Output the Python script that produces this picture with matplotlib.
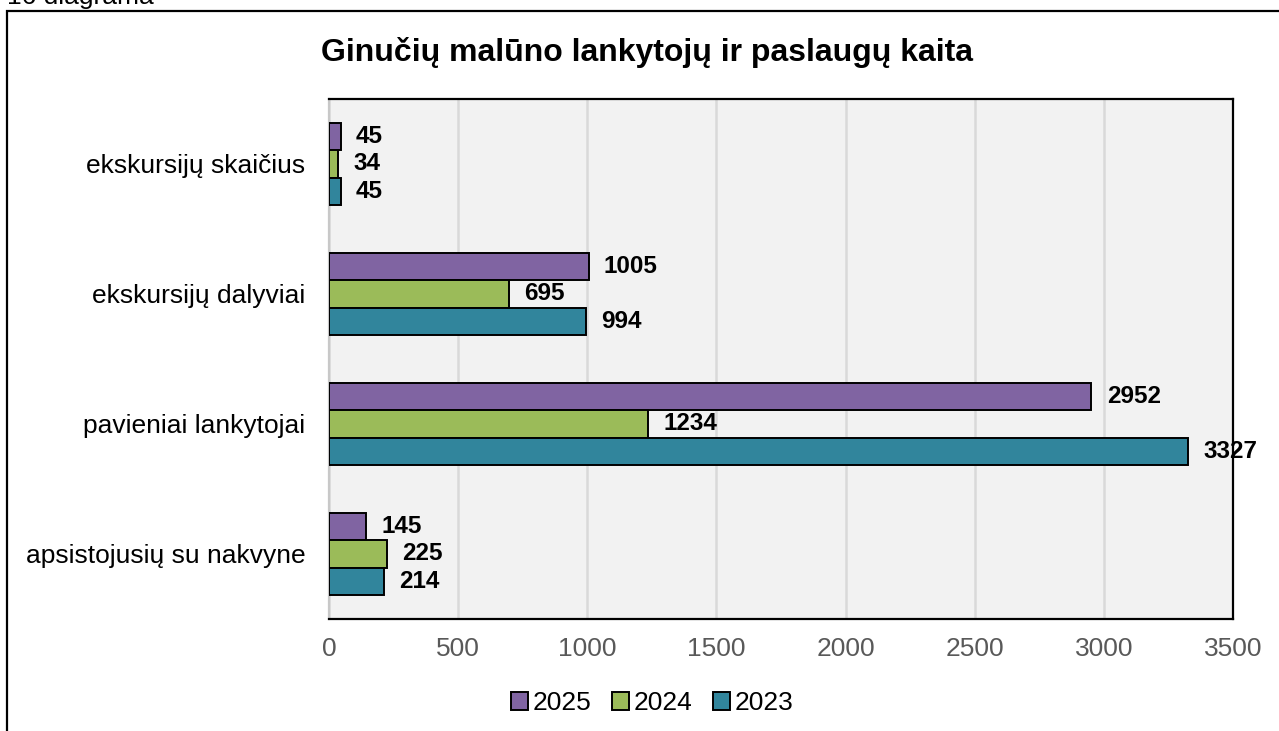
import numpy as np
import matplotlib
matplotlib.use("Agg")
from matplotlib import pyplot as plt
from matplotlib.patches import Rectangle

plt.rcParams['font.family'] = ['Liberation Sans', 'DejaVu Sans']

categories = ['apsistojusių su nakvyne', 'pavieniai lankytojai',
              'ekskursijų dalyviai', 'ekskursijų skaičius']
years = ['2025', '2024', '2023']
v2025 = [145, 2952, 1005, 45]
v2024 = [225, 1234, 695, 34]
v2023 = [214, 3327, 994, 45]
colors = ['#8064A2', '#9BBB59', '#31859C']

fig = plt.figure(figsize=(12.79, 7.31), dpi=100)
W, H = 1279, 731

# outer chart frame (runs off the right and bottom edge)
fig.patches.append(Rectangle((7 / W, -0.1), 1.2, 1 - 11 / H + 0.1,
                             transform=fig.transFigure, fill=False,
                             edgecolor='black', linewidth=1.6))
# caption above the frame, cut off at the top like in the source
fig.text(7 / W, 1 - 4 / H, '16 diagrama', fontsize=19, va='baseline', ha='left')

ax = fig.add_axes([329 / W, 1 - 619 / H, (1233 - 329) / W, (619 - 99) / H])
ax.set_facecolor('#f2f2f2')

y = np.arange(len(categories))
h = 0.21
for vals, off, col, lab in zip([v2025, v2024, v2023], [h, 0, -h], colors, years):
    bars = ax.barh(y + off, vals, height=h, color=col, edgecolor='black',
                   linewidth=1.4, label=lab, zorder=3)
    for b, v in zip(bars, vals):
        ax.annotate(str(v), (b.get_width(), b.get_y() + b.get_height() / 2),
                    xytext=(11, 0), textcoords='offset points', va='center',
                    ha='left', fontsize=17.5, fontweight='bold', zorder=5,
                    annotation_clip=False)

ax.set_xlim(0, 3500)
ax.set_ylim(-0.5, 3.5)
ax.set_xticks(np.arange(0, 3501, 500))
ax.set_yticks(y)
ax.set_yticklabels(categories)
ax.tick_params(axis='y', length=0, pad=17, labelsize=19)
ax.tick_params(axis='x', length=0, pad=13, labelsize=19, labelcolor='#595959')
ax.grid(axis='x', color='#d9d9d9', linewidth=1.8, zorder=0)
ax.set_axisbelow(True)
for s in ['top', 'right', 'bottom']:
    ax.spines[s].set_color('black')
    ax.spines[s].set_linewidth(1.6)
ax.spines['left'].set_color('#c8c8c8')
ax.spines['left'].set_linewidth(1.6)

fig.text(647 / W, 1 - 52 / H, 'Ginučių malūno lankytojų ir paslaugų kaita',
         fontsize=23, fontweight='bold', ha='center', va='center')

leg = fig.legend(loc='center', bbox_to_anchor=(652 / W, 1 - 703 / H), ncol=3,
                 frameon=False, fontsize=19, handlelength=0.65, handleheight=0.65,
                 handletextpad=0.15, columnspacing=0.8)

plt.savefig('out.png', dpi=100)
